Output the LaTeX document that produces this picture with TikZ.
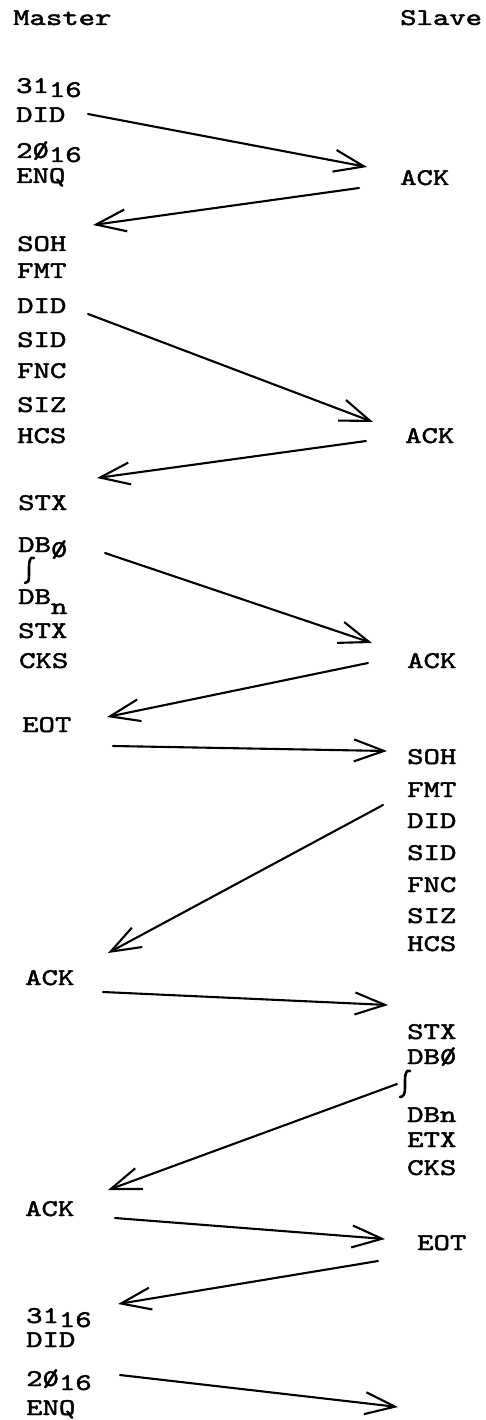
\documentclass[tikz,border=0pt]{standalone}
\usepackage{graphicx}
\usepackage{fontspec}
\usetikzlibrary{arrows.meta}
\newfontfamily\tyfont{lmmono10-regular.otf}[FakeBold=1.6]
\newcommand\zs{\rlap{0}/}
\newcommand\tw[1]{\scalebox{1.3}[1]{#1}}
\tikzset{
  lbl/.style={anchor=base west, inner sep=0pt, font=\tyfont\fontsize{24}{24}\selectfont},
  msg/.style={line width=2.1pt, line cap=round, line join=round,
    -{Straight Barb[length=30pt,width=22pt,line width=2.1pt]}},
  squig/.style={line width=2.6pt, line cap=round}
}
\begin{document}
\begin{tikzpicture}[x=1pt,y=-1pt]
\useasboundingbox (0,0) rectangle (485,1420);
% headings
\node[lbl] (master) at (13,25) {\tw{Master}};
\node[lbl] (slave) at (400,25) {\tw{Slave}};
% left column
\node[lbl] (l31a) at (16,93) {\tw{31\raisebox{-4pt}{16}}};
\node[lbl] (ldida) at (16,122) {\tw{DID}};
\node[lbl] (l20a) at (16,158) {\tw{2\zs\raisebox{-4pt}{16}}};
\node[lbl] (lenqa) at (16,183) {\tw{ENQ}};
\node[lbl] (lsoh) at (17,251) {\tw{SOH}};
\node[lbl] (lfmt) at (17,278) {\tw{FMT}};
\node[lbl] (ldidb) at (17,313) {\tw{DID}};
\node[lbl] (lsid) at (17,347) {\tw{SID}};
\node[lbl] (lfnc) at (17,378) {\tw{FNC}};
\node[lbl] (lsiz) at (17,412) {\tw{SIZ}};
\node[lbl] (lhcs) at (17,443) {\tw{HCS}};
\node[lbl] (lstxa) at (18,510) {\tw{STX}};
\node[lbl] (ldbz) at (18,552) {\tw{DB\raisebox{-5pt}{\zs}}};
\draw[squig] (34,558) .. controls (30,556) and (29,562) .. (29,567) -- (29,576) .. controls (29,581) and (28,583) .. (25,583);
\node[lbl] (ldbn) at (18,604) {\tw{DB\raisebox{-10pt}{n}}};
\node[lbl] (lstxb) at (18,638) {\tw{STX}};
\node[lbl] (lcks) at (19,668) {\tw{CKS}};
\node[lbl] (leot) at (22,732) {\tw{EOT}};
\node[lbl] (lacka) at (25,985) {\tw{ACK}};
\node[lbl] (lackb) at (25,1216) {\tw{ACK}};
\node[lbl] (l31b) at (26,1323) {\tw{31\raisebox{-4pt}{16}}};
\node[lbl] (ldidc) at (26,1347) {\tw{DID}};
\node[lbl] (l20b) at (26,1386) {\tw{2\zs\raisebox{-4pt}{16}}};
\node[lbl] (lenqb) at (26,1415) {\tw{ENQ}};
% right column
\node[lbl] (racka) at (400,185) {\tw{ACK}};
\node[lbl] (rackb) at (405,443) {\tw{ACK}};
\node[lbl] (rackc) at (407,668) {\tw{ACK}};
\node[lbl] (rsoh) at (407,764) {\tw{SOH}};
\node[lbl] (rfmt) at (407,797) {\tw{FMT}};
\node[lbl] (rdid) at (407,828) {\tw{DID}};
\node[lbl] (rsid) at (407,860) {\tw{SID}};
\node[lbl] (rfnc) at (407,892) {\tw{FNC}};
\node[lbl] (rsiz) at (407,923) {\tw{SIZ}};
\node[lbl] (rhcs) at (407,951) {\tw{HCS}};
\node[lbl] (rstx) at (407,1039) {\tw{STX}};
\node[lbl] (rdbz) at (407,1064) {\tw{DB\zs}};
\draw[squig] (410,1071) .. controls (406,1069) and (405,1075) .. (405,1080) -- (405,1089) .. controls (405,1094) and (403,1097) .. (400,1097);
\node[lbl] (rdbn) at (407,1122) {\tw{DBn}};
\node[lbl] (retx) at (407,1147) {\tw{ETX}};
\node[lbl] (rcks) at (407,1175) {\tw{CKS}};
\node[lbl] (reot) at (417,1250) {\tw{EOT}};
% arrow end points
\coordinate (a1s) at (88,114);   \coordinate (a1e) at (367,167);
\coordinate (a2s) at (359,188);  \coordinate (a2e) at (93,225);
\coordinate (a3s) at (88,314);   \coordinate (a3e) at (373,422);
\coordinate (a4s) at (366,441);  \coordinate (a4e) at (97,478);
\coordinate (a5s) at (105,553);  \coordinate (a5e) at (372,643);
\coordinate (a6s) at (368,663);  \coordinate (a6e) at (107,717);
\coordinate (a7s) at (113,746);  \coordinate (a7e) at (387,751);
\coordinate (a8s) at (383,805);  \coordinate (a8e) at (108,953);
\coordinate (a9s) at (103,992);  \coordinate (a9e) at (388,1005);
\coordinate (a10s) at (397,1084); \coordinate (a10e) at (108,1190);
\coordinate (a11s) at (115,1218); \coordinate (a11e) at (385,1239);
\coordinate (a12s) at (378,1261); \coordinate (a12e) at (118,1304);
\coordinate (a13s) at (120,1375); \coordinate (a13e) at (398,1407);
\foreach \i in {1,...,13} \draw[msg] (a\i s) -- (a\i e);
\end{tikzpicture}
\end{document}
